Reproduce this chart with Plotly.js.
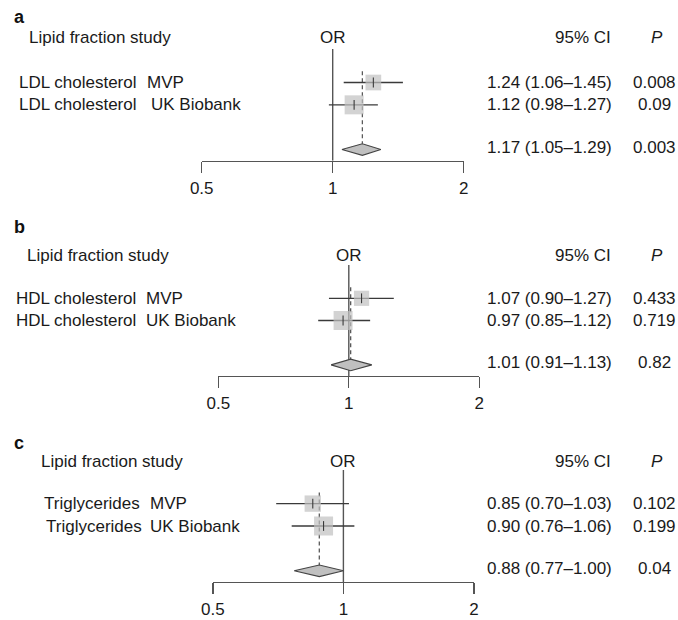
<!DOCTYPE html>
<html>
<head>
<meta charset="utf-8">
<script src="https://cdn.plot.ly/plotly-3.0.1.min.js"></script>
<style>
  html, body { margin: 0; padding: 0; background: #ffffff; }
  #chart { width: 678px; height: 620px; }
</style>
</head>
<body>
<div id="chart"></div>
<script>
// ---------------- DATA ----------------
const panelLetters = ['a', 'b', 'c'];
const lipidFractions = ['LDL cholesterol', 'HDL cholesterol', 'Triglycerides'];
const studies = ['MVP', 'UK Biobank'];

const orMVP = [1.24, 1.07, 0.85];
const loMVP = [1.06, 0.90, 0.70];
const hiMVP = [1.45, 1.27, 1.03];
const pMVP  = ['0.008', '0.433', '0.102'];

const orUKB = [1.12, 0.97, 0.90];
const loUKB = [0.98, 0.85, 0.76];
const hiUKB = [1.27, 1.12, 1.06];
const pUKB  = ['0.09', '0.719', '0.199'];

const orPooled = [1.17, 1.01, 0.88];
const loPooled = [1.05, 0.91, 0.77];
const hiPooled = [1.29, 1.13, 1.00];
const pPooled  = ['0.003', '0.82', '0.04'];

const tickValues = [0.5, 1, 2];
const tickLabels = ['0.5', '1', '2'];
const headerLipid = 'Lipid fraction study';
const headerOR = 'OR';
const headerCI = '95% CI';
const headerP = '<i>P</i>';

// ---------------- LAYOUT (pixels) ----------------
const W = 678, H = 620;
const FONT = 'Liberation Sans, Arial, Helvetica, sans-serif';
const FS = 17;
const px = v => v / W;
const py = v => 1 - v / H;

// per-panel geometry: x domain (px of 0.5 and 2), y domain (axis line, top)
const geom = [
  { xd: [201.7, 463.7], yd: [160.7, 49],  letter: [12, 17.5], headY: 37,
    headLipidX: 26.5, orX: 333, lipidX: [17.3, 17.3], studyX: [145, 149] },
  { xd: [218.3, 479.3], yd: [376, 265],   letter: [12, 227], headY: 255,
    headLipidX: 25,   orX: 348.5, lipidX: [14, 14], studyX: [144.3, 144.3] },
  { xd: [212.8, 474.0], yd: [582, 470],   letter: [12, 443], headY: 461.7,
    headLipidX: 39.3, orX: 343.3, lipidX: [41.7, 44.3], studyX: [147.7, 147.7] }
];
const ciRightX = 613.5;
const pCenterX = 654.3;
const pHeadX = 656.5;

// row slots on each panel's y-axis
const ROW_MVP = 3, ROW_UKB = 2, ROW_POOL = 0;
const Y_RANGE = [-0.5, 4.5];
const DIAMOND_HALF = 0.26;

const LINE_DARK = '#3a3a3a';
const AXIS_GREY = '#555555';
const BOX_GREY = '#c0c0c0';

const traces = [];
const annotations = [];
const layout = {
  width: W, height: H, autosize: false,
  margin: { l: 0, r: 0, t: 0, b: 0, pad: 0 },
  paper_bgcolor: '#ffffff', plot_bgcolor: 'rgba(0,0,0,0)',
  showlegend: false,
  font: { family: FONT, size: FS, color: '#1a1a1a' },
  annotations: annotations
};

const logw = (lo, hi) => Math.log(hi) - Math.log(lo);
const fmtCI = (o, l, h) => `${o.toFixed(2)} (${l.toFixed(2)}–${h.toFixed(2)})`;

for (let i = 0; i < 3; i++) {
  const g = geom[i];
  const xa = i === 0 ? 'x' : 'x' + (i + 1);
  const ya = i === 0 ? 'y' : 'y' + (i + 1);
  const xKey = i === 0 ? 'xaxis' : 'xaxis' + (i + 1);
  const yKey = i === 0 ? 'yaxis' : 'yaxis' + (i + 1);

  layout[xKey] = {
    type: 'log',
    domain: [px(g.xd[0]), px(g.xd[1])],
    range: [Math.log10(tickValues[0]), Math.log10(tickValues[tickValues.length - 1])],
    anchor: ya,
    tickmode: 'array', tickvals: tickValues, ticktext: tickLabels,
    ticks: 'outside', ticklen: 11, tickwidth: 1.4, tickcolor: AXIS_GREY,
    showline: true, linecolor: AXIS_GREY, linewidth: 1.4,
    showgrid: false, zeroline: false,
    tickfont: { family: FONT, size: FS, color: '#1a1a1a' },
    ticklabelstandoff: 0,
    fixedrange: true
  };
  layout[yKey] = {
    domain: [py(g.yd[0]), py(g.yd[1])],
    range: Y_RANGE, anchor: xa,
    visible: false, showgrid: false, zeroline: false, fixedrange: true
  };

  // reference line at OR = 1
  traces.push({
    type: 'scatter', mode: 'lines', xaxis: xa, yaxis: ya,
    x: [1, 1], y: Y_RANGE,
    line: { color: AXIS_GREY, width: 1.4 }, hoverinfo: 'skip', cliponaxis: false
  });

  // dashed line at pooled estimate
  traces.push({
    type: 'scatter', mode: 'lines', xaxis: xa, yaxis: ya,
    x: [orPooled[i], orPooled[i]], y: [ROW_MVP + 0.5, ROW_POOL + DIAMOND_HALF],
    line: { color: '#5a5a5a', width: 1.3, dash: '4px,3px' }, hoverinfo: 'skip'
  });

  // CI lines
  traces.push({
    type: 'scatter', mode: 'lines', xaxis: xa, yaxis: ya,
    x: [loMVP[i], hiMVP[i], null, loUKB[i], hiUKB[i]],
    y: [ROW_MVP, ROW_MVP, null, ROW_UKB, ROW_UKB],
    line: { color: LINE_DARK, width: 1.3 }, hoverinfo: 'skip', cliponaxis: false
  });

  // boxes (size inversely proportional to log CI width)
  const wM = logw(loMVP[i], hiMVP[i]), wU = logw(loUKB[i], hiUKB[i]);
  const wMin = Math.min(wM, wU);
  const maxBox = 19;
  traces.push({
    type: 'scatter', mode: 'markers', xaxis: xa, yaxis: ya,
    x: [orMVP[i], orUKB[i]], y: [ROW_MVP, ROW_UKB],
    marker: { symbol: 'square', color: BOX_GREY,
              size: [maxBox * wMin / wM, maxBox * wMin / wU],
              line: { width: 0 } },
    hoverinfo: 'skip', cliponaxis: false
  });

  // point-estimate ticks
  traces.push({
    type: 'scatter', mode: 'markers', xaxis: xa, yaxis: ya,
    x: [orMVP[i], orUKB[i]], y: [ROW_MVP, ROW_UKB],
    marker: { symbol: 'line-ns', size: 7, line: { color: LINE_DARK, width: 1.1 } },
    hoverinfo: 'skip', cliponaxis: false
  });

  // pooled diamond
  traces.push({
    type: 'scatter', mode: 'lines', xaxis: xa, yaxis: ya,
    x: [loPooled[i], orPooled[i], hiPooled[i], orPooled[i], loPooled[i]],
    y: [ROW_POOL, ROW_POOL + DIAMOND_HALF, ROW_POOL, ROW_POOL - DIAMOND_HALF, ROW_POOL],
    fill: 'toself', fillcolor: BOX_GREY,
    line: { color: '#444444', width: 1.1 }, hoverinfo: 'skip', cliponaxis: false
  });

  // ---- texts ----
  const txt = (text, x, y, xanchor) => ({
    text: text, xref: 'paper', yref: ya, x: px(x), y: y,
    xanchor: xanchor, yanchor: 'middle', showarrow: false,
    font: { family: FONT, size: FS, color: '#1a1a1a' }
  });
  const ptxt = (text, x, yPx, xanchor) => ({
    text: text, xref: 'paper', yref: 'paper', x: px(x), y: py(yPx),
    xanchor: xanchor, yanchor: 'middle', showarrow: false,
    font: { family: FONT, size: FS, color: '#1a1a1a' }
  });

  // panel letter
  annotations.push({
    text: '<b>' + panelLetters[i] + '</b>', xref: 'paper', yref: 'paper',
    x: px(g.letter[0]), y: py(g.letter[1]), xanchor: 'left', yanchor: 'middle',
    showarrow: false, font: { family: FONT, size: 18, color: '#111111' }
  });

  // headers
  annotations.push(ptxt(headerLipid, g.headLipidX, g.headY, 'left'));
  annotations.push(ptxt(headerOR, g.orX, g.headY, 'center'));
  annotations.push(ptxt(headerCI, ciRightX - 1, g.headY, 'right'));
  annotations.push(ptxt(headerP, pHeadX, g.headY, 'center'));

  // rows
  const rowsY = [ROW_MVP, ROW_UKB];
  const ors = [orMVP[i], orUKB[i]], los = [loMVP[i], loUKB[i]], his = [hiMVP[i], hiUKB[i]];
  const ps = [pMVP[i], pUKB[i]];
  for (let r = 0; r < 2; r++) {
    annotations.push(txt(lipidFractions[i], g.lipidX[r], rowsY[r], 'left'));
    annotations.push(txt(studies[r], g.studyX[r], rowsY[r], 'left'));
    annotations.push(txt(fmtCI(ors[r], los[r], his[r]), ciRightX, rowsY[r], 'right'));
    annotations.push(txt(ps[r], pCenterX, rowsY[r], 'center'));
  }
  annotations.push(txt(fmtCI(orPooled[i], loPooled[i], hiPooled[i]), ciRightX, ROW_POOL + 0.1, 'right'));
  annotations.push(txt(pPooled[i], pCenterX, ROW_POOL + 0.1, 'center'));
}

Plotly.newPlot('chart', traces, layout, { staticPlot: true, displayModeBar: false });
</script>
</body>
</html>
